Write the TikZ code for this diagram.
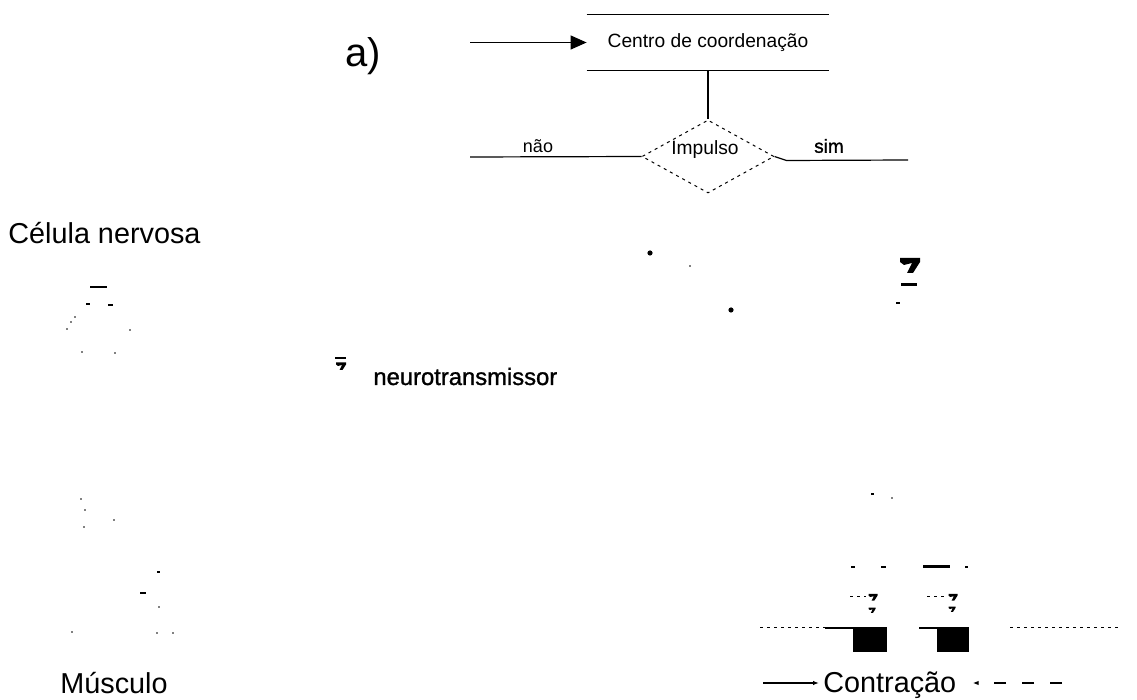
\documentclass[tikz,border=0pt]{standalone}
\usepackage{fontspec}
\setmainfont{Liberation Sans}
\newfontfamily\heavyfont[FakeBold=1.2]{Liberation Sans}
\usetikzlibrary{shapes.geometric,arrows.meta}

\tikzset{
  lbl/.style={inner sep=0pt, font=\fontsize{14.4}{17}\selectfont},
  small/.style={inner sep=0pt, font=\fontsize{9.6}{11}\selectfont},
  flow/.style={line width=0.6pt},
  dotline/.style={line width=0.5pt, dash pattern=on 1.5pt off 2pt},
  speck/.style={line width=1pt},
  % neurotransmitter glyph: a small hooked "7"
  pics/ntsym/.style={code={
    \fill (-10,-7) -- (10,-7) -- (10,-3) -- (3,8) -- (-3,8) -- (2,-2)
          -- (-6,0) -- (-10,-3) -- cycle;}}
}

\begin{document}
\begin{tikzpicture}[x=0.5pt,y=-0.5pt]
\useasboundingbox (0,0) rectangle (1137,700);

% ---- flow chart ----
\node[lbl, font=\fontsize{20}{24}\selectfont, anchor=base west] (tag) at (345,67) {a)};

\node[small, minimum width=121pt, minimum height=27.5pt] (ctr) at (708,42.5)
  {Centro de coordenação};
\draw[flow] (ctr.north west) -- (ctr.north east);
\draw[flow] (ctr.south west) -- (ctr.south east);
\coordinate (feed) at (470,42.5);
\draw[flow,-{Triangle[length=8pt,width=7pt]}] (feed) -- (ctr.west);

\node[diamond, draw, dotline, minimum width=66pt, minimum height=36.5pt,
      inner sep=0pt, aspect=1.8] (dec) at (708,156.5) {};
\node[small] (imp) at (705,150) {Impulso};
\draw[flow] (ctr.south) -- (dec.north);

\coordinate (noend) at (470,157);
\draw[flow] (dec.west) -- (noend);
\node[small, font=\fontsize{9}{11}\selectfont] (nao) at (538,146) {não};

\coordinate (yesend) at (908,160);
\draw[flow] (dec.east) -- ++(12,4) -- (yesend);
\node[inner sep=0pt, font=\heavyfont\fontsize{9.5}{11}\selectfont] (sim) at (829,146) {sim};

% ---- labels ----
\node[lbl, anchor=base west] (cell) at (8,244) {Célula nervosa};
\node[lbl, anchor=base west] (muscle) at (60,693) {Músculo};
\node[inner sep=0pt, anchor=base west, font=\heavyfont\fontsize{11.9}{14}\selectfont]
  (nt) at (373,385) {neurotransmissor};
\pic[scale=0.5] at (341,366) {ntsym};
\fill (335,357) rectangle (346,359);

% ---- released transmitter ----
\pic at (910,265) {ntsym};
\fill (901,283) rectangle (917,286);
\fill (896,302) rectangle (900,304);
\fill (650,253) circle (1.3pt);
\fill (731,310) circle (1.3pt);
\fill (690,266) circle (0.4pt);

% ---- muscle receptors ----
\fill (851,566) rectangle (855,568);
\fill (881,566) rectangle (886,568);
\fill (923,565) rectangle (950,568);
\fill (965,566) rectangle (968,568);
\pic[scale=0.45] at (873,597) {ntsym};
\pic[scale=0.35] at (872,610) {ntsym};
\pic[scale=0.45] at (953,597) {ntsym};
\pic[scale=0.35] at (952,609) {ntsym};
\draw[dotline] (850,597) -- (866,597);
\draw[dotline] (927,597) -- (945,597);
\fill (853,627) rectangle (887,652);
\fill (937,627) rectangle (969,652);
\draw[dotline] (760,628) -- (825,628);
\draw[flow] (825,628) -- (853,628);
\draw[flow] (919,628) -- (937,628);
\draw[dotline] (1010,628) -- (1122,628);

% ---- contraction ----
\node[lbl, anchor=base west] (contr) at (823,692) {Contração};
\coordinate (cin) at (763,683);
\draw[flow,-{Latex[length=3pt]}] (cin) -- ([xshift=-2pt]contr.west |- cin);
\coordinate (cback) at (1062,683);
\draw[flow, dash pattern=on 6pt off 8pt, -{Latex[length=3pt]}] (cback)
  -- ([xshift=8pt]contr.east |- cback);

% ---- faint outline specks (cell and muscle) ----
\draw[speck] (90,287) -- (107,287);
\draw[speck] (86,304) -- (90,304);
\draw[speck] (108,305) -- (113,305);
\draw[speck] (157,572) -- (160,572);
\draw[speck] (140,593) -- (146,593);
\draw[speck] (871,494) -- (874,494);
\foreach \p in {(75,317),(71,322),(67,329),(130,330),(82,352),(115,353),
                (81,499),(85,510),(114,520),(84,527),(159,607),(72,632),
                (157,633),(173,633),(892,498)}
  \fill \p circle (0.45pt);
\end{tikzpicture}
\end{document}
